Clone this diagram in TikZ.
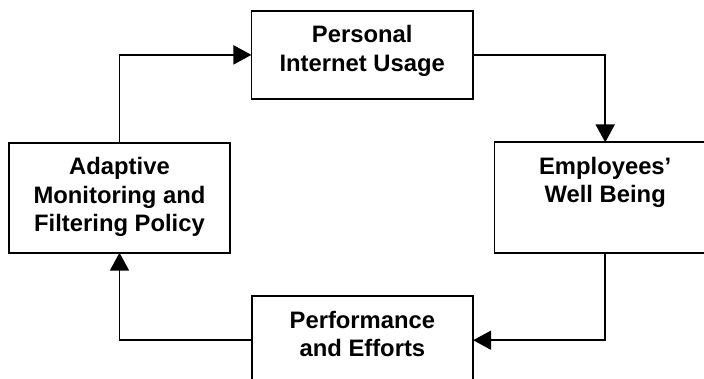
\documentclass[tikz,border=0pt]{standalone}
\usepackage{fontspec}
\setmainfont{Liberation Sans}
\usetikzlibrary{arrows.meta}
\tikzset{
  box/.style={draw=black, line width=1.9pt, fill=white, inner sep=0pt, outer sep=0pt,
    font=\fontsize{23.8}{28.5}\selectfont\bfseries},
  arr/.style={line width=1.9pt, -{Triangle[length=18pt,width=19pt]}},
}
\newcommand{\boxtext}[3]{\parbox[c][#2pt][t]{#1pt}{\centering\rule{0pt}{32pt}#3\par}}
\begin{document}
\begin{tikzpicture}[x=1pt,y=-1pt]
\useasboundingbox (0,0) rectangle (704,379);
\clip (0,0) rectangle (704,379);
\fill[white] (0,0) rectangle (704,379);
\node[box] (T) at (362.2,54.9) {\boxtext{221.5}{88.3}{Personal\\Internet Usage}};
\node[box] (L) at (119.5,197.7) {\boxtext{221}{110}{Adaptive\\Monitoring and\\Filtering Policy}};
\node[box] (R) at (605.2,197.6) {\boxtext{221.5}{110.4}{Employees’\\Well Being}};
\node[box] (B) at (362.4,340.2) {\boxtext{221.5}{88.3}{Performance\\and Efforts}};
\draw[arr] (L.north) |- (T.west);
\draw[arr] (T.east) -| (R.north);
\draw[arr] (R.south) |- (B.east);
\draw[arr] (B.west) -| (L.south);
\end{tikzpicture}
\end{document}
